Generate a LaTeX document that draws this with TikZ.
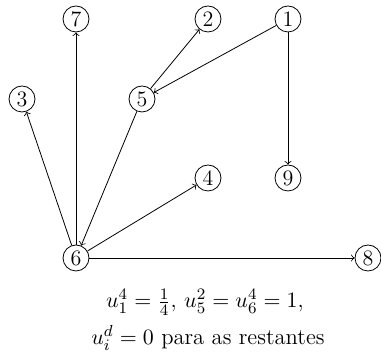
\documentclass[tikz,border=0pt]{standalone}
\usetikzlibrary{arrows}
\begin{document}
\begin{tikzpicture}[x=0.5pt,y=-0.5pt,
  vtx/.style={circle,draw,inner sep=0pt,minimum size=13pt,font=\fontsize{11}{13}\selectfont},
  lbl/.style={font=\fontsize{11.3}{13.5}\selectfont,inner sep=1pt},
  edge/.style={->}]
\useasboundingbox (0,0) rectangle (381,356);
\node[vtx] (n7) at (76,19) {7};
\node[vtx] (n2) at (208,19) {2};
\node[vtx] (n1) at (288,19) {1};
\node[vtx] (n3) at (22,99) {3};
\node[vtx] (n5) at (142,99) {5};
\node[vtx] (n4) at (208,178) {4};
\node[vtx] (n9) at (288,178) {9};
\node[vtx] (n6) at (76,258) {6};
\node[vtx] (n8) at (368,258) {8};
\draw[edge] (n1) -- (n5);
\draw[edge] (n1) -- (n9);
\draw[edge] (n5) -- (n2);
\draw[edge] (n5) -- (n6);
\draw[edge] (n6) -- (n3);
\draw[edge] (n6) -- (n7);
\draw[edge] (n6) -- (n4);
\draw[edge] (n6) -- (n8);
\node[lbl] (t1) at (205,302) {$u_1^4=\frac14$, $u_5^2=u_6^4=1$,};
\node[lbl] (t2) at (208,338) {$u_i^d=0$ para as restantes};
\end{tikzpicture}
\end{document}
